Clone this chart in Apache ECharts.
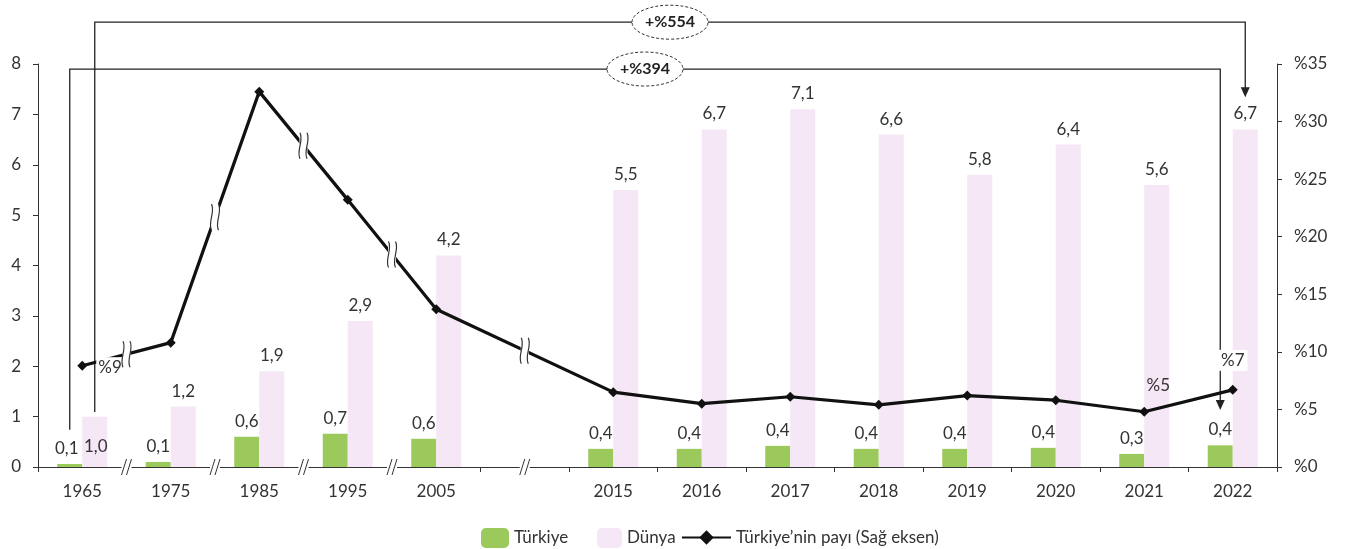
<!DOCTYPE html>
<html>
<head>
<meta charset="utf-8">
<script src="https://cdn.jsdelivr.net/npm/echarts@6/dist/echarts.min.js"></script>
<style>
html,body{margin:0;padding:0;background:#fff;}
#chart{width:1349px;height:549px;}
</style>
</head>
<body>
<div id="chart"></div>
<script>
// ---- data ----
const categories = ['1965','1975','1985','1995','2005','','2015','2016','2017','2018','2019','2020','2021','2022'];
const turkiye = [0.06, 0.1, 0.6, 0.66, 0.56, null, 0.36, 0.36, 0.42, 0.36, 0.36, 0.38, 0.26, 0.43];
const dunya   = [1.0, 1.2, 1.9, 2.9, 4.2, null, 5.5, 6.7, 7.1, 6.6, 5.8, 6.4, 5.6, 6.7];
const pay     = [8.8, 10.8, 32.6, 23.2, 13.7, null, 6.5, 5.5, 6.1, 5.4, 6.2, 5.8, 4.8, 6.7];
const seriesNames = ['Türkiye', 'Dünya', 'Türkiye’nin payı (Sağ eksen)'];
const leftAxis = {min: 0, max: 8, interval: 1};
const rightAxis = {min: 0, max: 35, interval: 5};
const lineLabelIdx = [0, 12, 13];
const axisBreakPairs = [[0,1],[1,2],[2,3],[3,4],[5,5]];
const lineBreakPairs = [[0,1],[1,2],[2,3],[3,4],[4,6]];
const brackets = [
  {text: '+%394', from: 0, to: 13, side: -1, top: 7.9,  fromEnd: 0.74, toEnd: 1.13},
  {text: '+%554', from: 0, to: 13, side:  1, top: 8.83, fromEnd: 1.09, toEnd: 7.34}
];

// ---- styling ----
const FONT = 'Lato';
const FS = 17;
const TXT = '#333';
const GREEN = '#9bc95b';
const PINK = '#f5e7f5';
const BAR_W = 25;
const fmt1 = v => v.toFixed(1).replace('.', ',');

const chart = echarts.init(document.getElementById('chart'));

const turkiyeData = turkiye.map((v, i) => i === 0
  ? {value: v, label: {offset: [-3, 0]}}
  : v);
const dunyaData = dunya.map((v, i) => i === 0
  ? {value: v, label: {position: 'insideBottom', distance: 12, offset: [1, 0]}}
  : v);

const lineLabelCfg = {
  0:  {show: true, position: 'right', distance: 9, backgroundColor: '#fff', padding: [2, 2], offset: [0, 2]},
  12: {show: true, position: 'top', distance: 13, offset: [14, 0]},
  13: {show: true, position: 'top', distance: 14, backgroundColor: '#fff', padding: [2, 3]}
};
const payData = pay.map((v, i) => lineLabelIdx.includes(i)
  ? {value: v, label: lineLabelCfg[i]}
  : v);

function renderBracket(params, api) {
  const b = brackets[params.dataIndex];
  const xL = api.coord([b.from, 0])[0] + b.side * BAR_W / 2;
  const xR = api.coord([b.to, 0])[0] + b.side * BAR_W / 2;
  const yT = api.coord([b.from, b.top])[1];
  const yL = api.coord([b.from, b.fromEnd])[1];
  const yR = api.coord([b.to, b.toEnd])[1];
  const cx = (xL + xR) / 2;
  return {
    type: 'group',
    children: [
      {type: 'polyline', shape: {points: [[xL, yL], [xL, yT], [xR, yT], [xR, yR - 8]]},
       style: {stroke: '#222', lineWidth: 1.3, fill: null}},
      {type: 'polygon', shape: {points: [[xR - 4.5, yR - 10], [xR + 4.5, yR - 10], [xR, yR]]},
       style: {fill: '#222'}},
      {type: 'ellipse', shape: {cx: cx, cy: yT, rx: 38, ry: 17},
       style: {fill: '#fff', stroke: '#333', lineWidth: 1, lineDash: [3, 2]}},
      {type: 'text', x: cx, y: yT,
       style: {text: b.text, align: 'center', verticalAlign: 'middle',
               font: 'bold 16px ' + FONT, fill: '#222'}}
    ]
  };
}

function renderLineBreak(params, api) {
  const p = lineBreakPairs[params.dataIndex];
  const a = api.coord([p[0], pay[p[0]]]);
  const b = api.coord([p[1], pay[p[1]]]);
  const x = (a[0] + b[0]) / 2, y = (a[1] + b[1]) / 2;
  const children = [{type: 'rect', shape: {x: x - 4, y: y - 13, width: 8, height: 26}, style: {fill: '#fff'}}];
  [-3.5, 3.5].forEach(dx => {
    const X = x + dx;
    children.push({type: 'path', shape: {pathData:
      'M' + X + ' ' + (y - 13) + ' C' + (X + 4) + ' ' + (y - 5) + ' ' + (X - 4) + ' ' + (y + 5) + ' ' + X + ' ' + (y + 13)},
      style: {stroke: '#333', lineWidth: 1.2, fill: null}});
  });
  return {type: 'group', children: children};
}

function renderAxisBreak(params, api) {
  const p = axisBreakPairs[params.dataIndex];
  const a = api.coord([p[0], 0]);
  const b = api.coord([p[1], 0]);
  const x = (a[0] + b[0]) / 2, y = a[1];
  const children = [{type: 'rect', shape: {x: x - 5, y: y - 2, width: 10, height: 4}, style: {fill: '#fff'}}];
  [-2.5, 2.5].forEach(dx => {
    children.push({type: 'line', shape: {x1: x + dx - 2.5, y1: y + 8, x2: x + dx + 2.5, y2: y - 8},
      style: {stroke: '#333', lineWidth: 1}});
  });
  return {type: 'group', children: children};
}

const legendBase = {
  textStyle: {fontFamily: FONT, fontSize: FS, color: TXT},
  itemGap: 0
};

chart.setOption({
  animation: false,
  textStyle: {fontFamily: FONT},
  grid: {left: 38, right: 72, top: 64, bottom: 82, containLabel: false},
  legend: [
    Object.assign({}, legendBase, {data: [seriesNames[0]], left: 476, top: 523, itemWidth: 28, itemHeight: 20}),
    Object.assign({}, legendBase, {data: [seriesNames[1]], left: 592, top: 523, itemWidth: 25, itemHeight: 20}),
    Object.assign({}, legendBase, {data: [seriesNames[2]], left: 676, top: 524, itemWidth: 49, itemHeight: 18})
  ],
  xAxis: {
    type: 'category',
    data: categories,
    boundaryGap: true,
    axisLine: {lineStyle: {color: '#333', width: 1}},
    axisTick: {show: true, length: 5, lineStyle: {color: '#333'},
               interval: (idx) => !(idx >= 1 && idx <= 4)},
    axisLabel: {color: TXT, fontSize: FS, margin: 16, fontFamily: FONT, interval: 0}
  },
  yAxis: [
    {type: 'value', min: leftAxis.min, max: leftAxis.max, interval: leftAxis.interval,
     splitLine: {show: false},
     axisLine: {show: true, lineStyle: {color: '#333'}},
     axisTick: {show: true, length: 5, lineStyle: {color: '#333'}},
     axisLabel: {color: TXT, fontSize: FS, margin: 17, fontFamily: FONT}},
    {type: 'value', position: 'right', min: rightAxis.min, max: rightAxis.max, interval: rightAxis.interval,
     splitLine: {show: false},
     axisLine: {show: true, lineStyle: {color: '#333'}},
     axisTick: {show: true, length: 5, lineStyle: {color: '#333'}},
     axisLabel: {color: TXT, fontSize: FS, margin: 17, fontFamily: FONT, formatter: v => '%' + v}}
  ],
  series: [
    {name: seriesNames[0], type: 'bar', data: turkiyeData, barWidth: BAR_W, barGap: '0%',
     itemStyle: {color: GREEN}, z: 2,
     label: {show: true, position: 'top', distance: 7, color: TXT, fontSize: FS, fontFamily: FONT,
             formatter: p => fmt1(p.value)}},
    {name: seriesNames[1], type: 'bar', data: dunyaData, barWidth: BAR_W, barGap: '0%',
     itemStyle: {color: PINK}, z: 2,
     label: {show: true, position: 'top', distance: 7, color: TXT, fontSize: FS, fontFamily: FONT,
             formatter: p => fmt1(p.value)}},
    {name: 'brackets', type: 'custom', renderItem: renderBracket, z: 3, silent: true,
     data: brackets.map(b => [b.from, b.top])},
    {name: seriesNames[2], type: 'line', yAxisIndex: 1, data: payData, connectNulls: true,
     symbol: 'diamond', symbolSize: 10, z: 5,
     lineStyle: {color: '#111', width: 3.2}, itemStyle: {color: '#111'},
     label: {show: false, color: TXT, fontSize: FS, fontFamily: FONT,
             formatter: p => '%' + Math.round(p.value)}},
    {name: 'lineBreaks', type: 'custom', yAxisIndex: 1, renderItem: renderLineBreak, z: 6, silent: true,
     data: lineBreakPairs.map(p => [p[0], 0])},
    {name: 'axisBreaks', type: 'custom', renderItem: renderAxisBreak, z: 10, silent: true,
     data: axisBreakPairs.map(p => [p[0], 0])}
  ]
});
</script>
</body>
</html>
